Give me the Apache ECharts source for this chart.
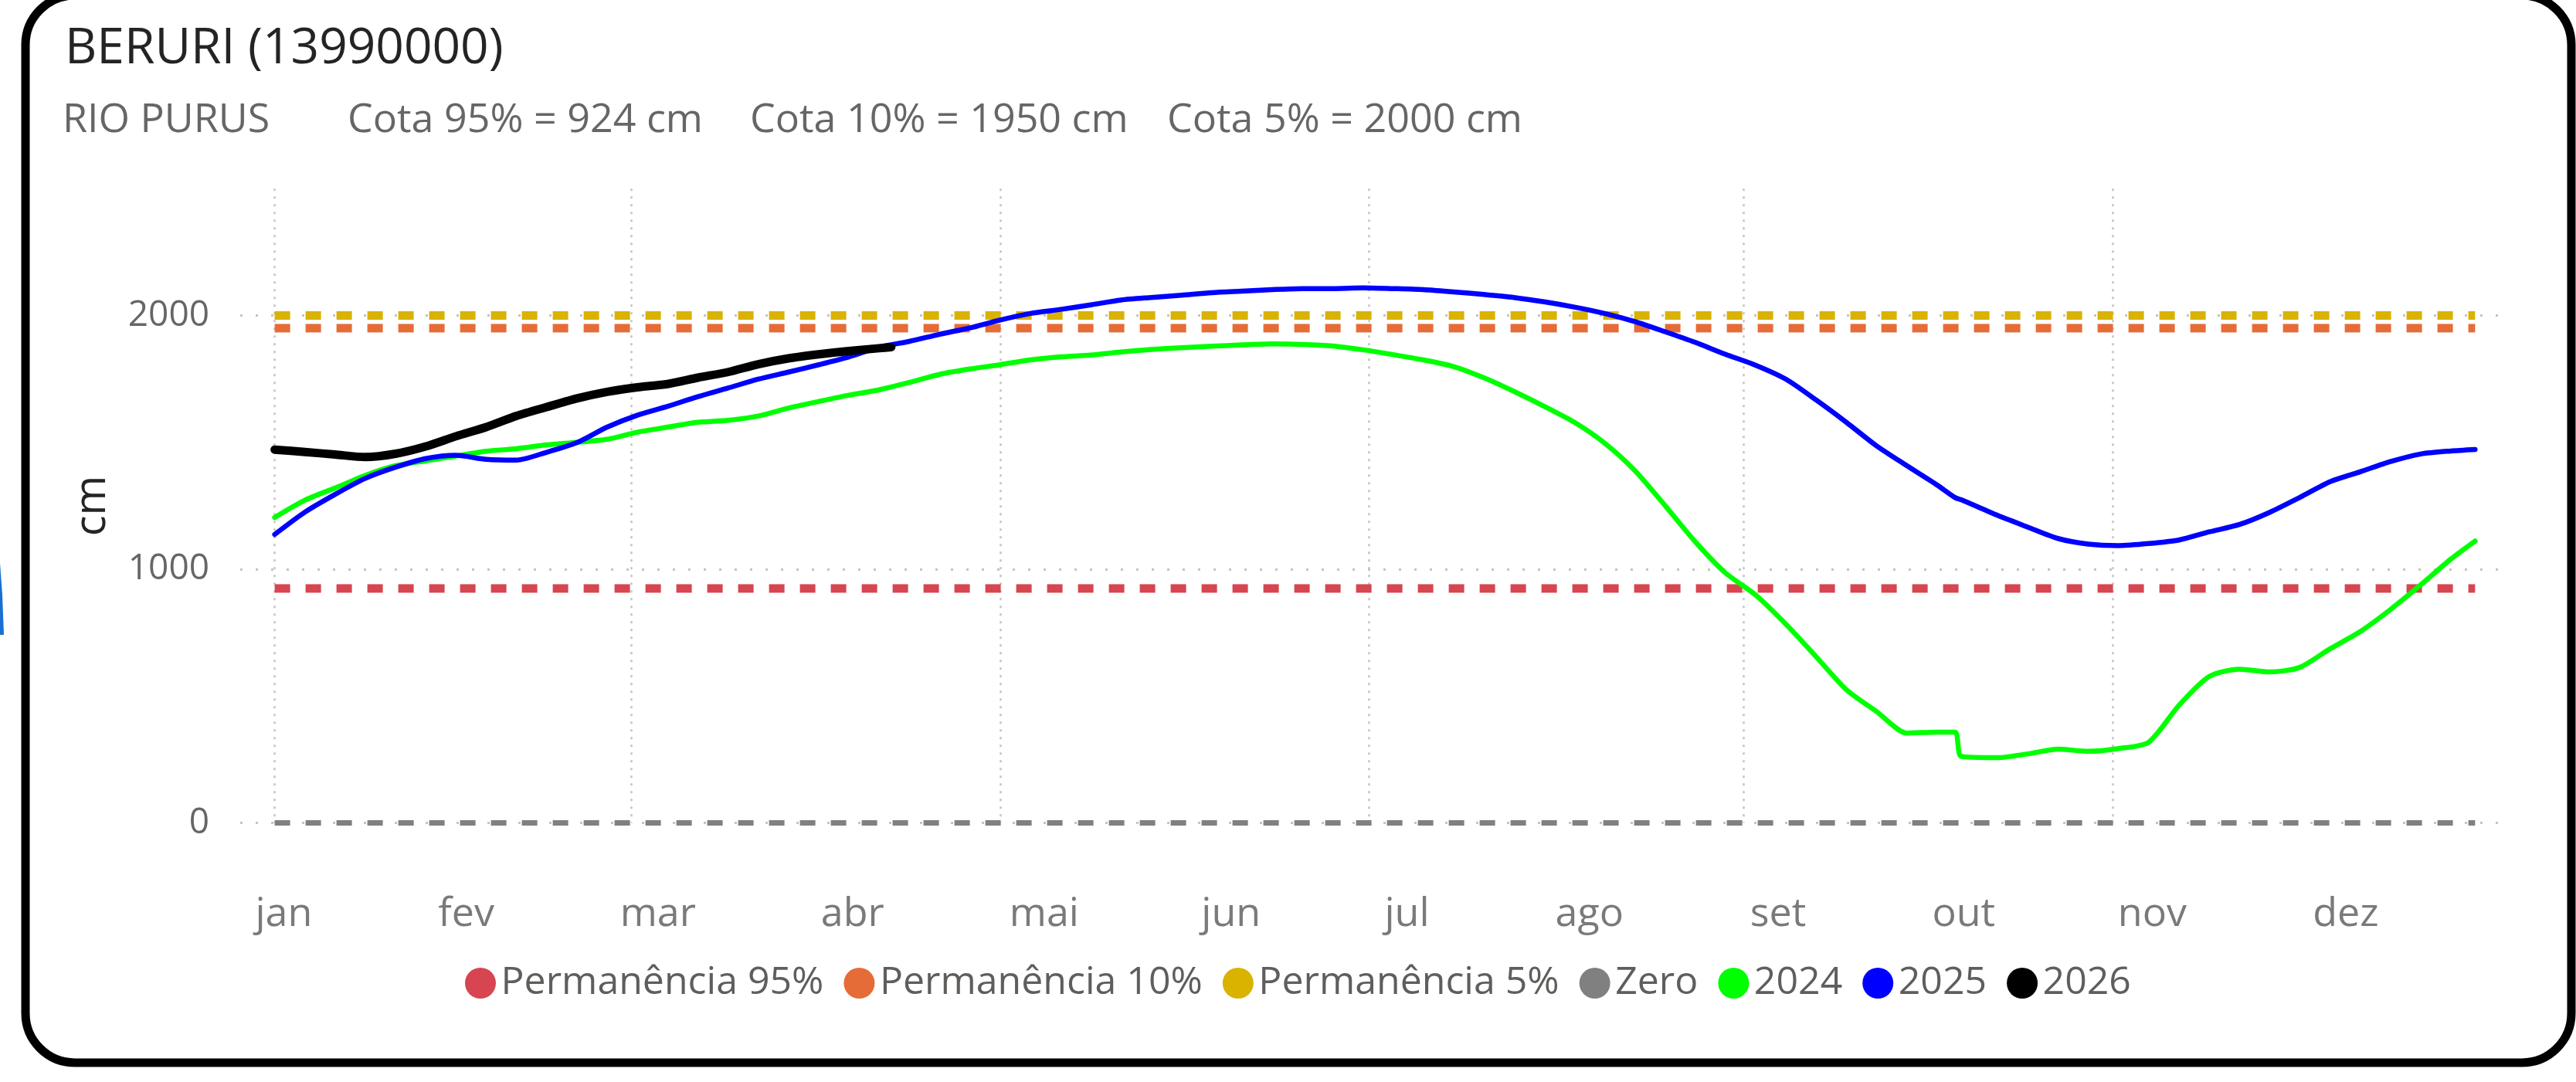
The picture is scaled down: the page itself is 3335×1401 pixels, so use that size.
<!DOCTYPE html>
<html>
<head>
<meta charset="utf-8">
<title>BERURI (13990000)</title>
<script src="https://cdn.jsdelivr.net/npm/echarts@6/dist/echarts.min.js"></script>
<style>
    html, body { margin: 0; padding: 0; background: #ffffff; }
    #main { width: 3335px; height: 1401px; }
</style>
</head>
<body>
<div id="main"></div>
<script>
// --------------------------------------------------------------------------------------------------------------------
// dados (dia do ano -> cota em cm)
var dias = [1, 6, 11, 16, 21, 26, 31, 36, 41, 46, 51, 56, 61, 66, 71, 76, 81, 86, 91, 96, 101, 106, 111, 116, 121,
    126, 131, 136, 141, 146, 151, 156, 161, 166, 171, 176, 181, 186, 191, 196, 201, 206, 211, 216, 221, 226, 231, 236,
    241, 246, 251, 256, 261, 266, 271, 276, 279, 280, 286, 291, 296, 301, 306, 311, 316, 321, 326, 331, 336, 341, 346,
    351, 356, 361, 365];
var cota2024 = [1204, 1272, 1320, 1370, 1408, 1427, 1446, 1465, 1475, 1490, 1500, 1512, 1540, 1560, 1579, 1587, 1604,
    1635, 1661, 1686, 1707, 1736, 1768, 1789, 1806, 1825, 1837, 1844, 1856, 1866, 1873, 1879, 1884, 1888, 1886, 1880,
    1865, 1846, 1825, 1799, 1755, 1701, 1642, 1579, 1497, 1389, 1251, 1108, 985, 898, 783, 655, 525, 439, 354, 358,
    358, 262, 257, 272, 291, 282, 293, 318, 463, 577, 606, 595, 613, 686, 754, 841, 938, 1040, 1111];
var cota2025 = [1137, 1225, 1295, 1358, 1402, 1436, 1449, 1433, 1430, 1461, 1499, 1560, 1607, 1642, 1680, 1714, 1749,
    1777, 1806, 1837, 1875, 1898, 1926, 1951, 1982, 2008, 2024, 2042, 2061, 2071, 2080, 2090, 2096, 2102, 2106, 2106,
    2109, 2106, 2102, 2093, 2083, 2071, 2054, 2033, 2008, 1976, 1936, 1894, 1847, 1804, 1749, 1667, 1579, 1486, 1408,
    1332, 1282, 1274, 1212, 1166, 1121, 1099, 1093, 1101, 1115, 1147, 1176, 1224, 1283, 1345, 1384, 1424, 1454, 1466,
    1472];
var dias2026 = [1, 6, 11, 16, 21, 26, 31, 36, 41, 46, 51, 56, 61, 66, 71, 76, 81, 86, 91, 96, 101, 103];
var cota2026 = [1471, 1462, 1452, 1442, 1455, 1484, 1524, 1560, 1604, 1639, 1673, 1699, 1717, 1730, 1755, 1777, 1808,
    1831, 1847, 1860, 1871, 1875];

// cotas de permanencia
var permanencia95 = 924;
var permanencia10 = 1950;
var permanencia5 = 2000;
var cotaZero = 0;

// eixos
var meses = ['jan', 'fev', 'mar', 'abr', 'mai', 'jun', 'jul', 'ago', 'set', 'out', 'nov', 'dez'];
var diasRotulos = [2.5, 32.7, 64.4, 96.6, 128.3, 159.2, 188.3, 218.5, 249.7, 280.4, 311.6, 343.6];
var diasGrade = [1, 60, 121, 182, 244, 305];
var ticksY = [0, 1000, 2000];

// --------------------------------------------------------------------------------------------------------------------
function pares(x, y) {
    var result = [];
    for (var i = 0; i < y.length; i++) {
        result.push([x[i], y[i]]);
    }
    return result;
}

function linhaReferencia(nome, valor, cor, largura) {
    return {
        name: nome,
        type: 'line',
        data: [[dias[0], valor], [dias[dias.length - 1], valor]],
        showSymbol: false,
        symbol: 'circle',
        clip: false,
        color: cor,
        lineStyle: { color: cor, width: largura, type: [20, 20], cap: 'butt' },
        silent: true
    };
}

function linhaAno(nome, x, y, cor, largura) {
    return {
        name: nome,
        type: 'line',
        data: pares(x, y),
        showSymbol: false,
        symbol: 'circle',
        smooth: 0.25,
        color: cor,
        lineStyle: { color: cor, width: largura, cap: 'round', join: 'round' },
        silent: true
    };
}

function rotuloMes(valor) {
    for (var i = 0; i < diasRotulos.length; i++) {
        if (Math.abs(diasRotulos[i] - valor) < 0.01) {
            return meses[i];
        }
    }
    return '';
}

// --------------------------------------------------------------------------------------------------------------------
var fonte = 'Open Sans';
var subEstilo = { fontFamily: fonte, fontSize: 52, fontWeight: 'normal', color: '#666666', lineHeight: 52 };

var chart = echarts.init(document.getElementById('main'));
chart.setOption({
    animation: false,
    backgroundColor: '#ffffff',
    title: [
        { text: 'BERURI (13990000)', left: 84, top: 32, padding: 0,
          textStyle: { fontFamily: fonte, fontSize: 64, fontWeight: 'normal', color: '#252423', lineHeight: 64 } },
        { text: 'RIO PURUS', left: 81, top: 130, padding: 0, textStyle: subEstilo },
        { text: 'Cota 95% = ' + permanencia95 + ' cm', left: 450, top: 130, padding: 0, textStyle: subEstilo },
        { text: 'Cota 10% = ' + permanencia10 + ' cm', left: 971, top: 130, padding: 0, textStyle: subEstilo },
        { text: 'Cota 5% = ' + permanencia5 + ' cm', left: 1511, top: 130, padding: 0, textStyle: subEstilo }
    ],
    legend: {
        data: ['Permanência 95%', 'Permanência 10%', 'Permanência 5%', 'Zero', '2024', '2025', '2026'],
        left: 602,
        top: 1248,
        padding: 0,
        icon: 'circle',
        itemWidth: 43,
        itemHeight: 40,
        itemGap: 26,
        textStyle: { fontFamily: fonte, fontSize: 50, color: '#605E5C' }
    },
    grid: { left: 311, right: 97, top: 244.25, bottom: 335.5, containLabel: false, outerBoundsMode: 'none' },
    xAxis: {
        type: 'value',
        min: -4.7,
        max: 369.3,
        axisLine: { show: false },
        axisTick: { show: false, customValues: diasGrade },
        splitLine: { show: true, lineStyle: { color: '#c4c4c4', width: 2.5, type: [3, 7] } },
        axisLabel: {
            customValues: diasRotulos,
            formatter: rotuloMes,
            color: '#7a7a7a',
            fontFamily: fonte,
            fontSize: 52,
            margin: 119,
            verticalAlign: 'middle'
        }
    },
    yAxis: {
        type: 'value',
        min: 0,
        max: 2500,
        name: 'cm',
        nameLocation: 'middle',
        nameGap: 163,
        nameRotate: 90,
        nameTextStyle: { fontFamily: fonte, fontSize: 56, color: '#252423' },
        axisLine: { show: false },
        axisTick: { show: false, customValues: ticksY },
        axisLabel: {
            customValues: ticksY,
            formatter: function (v) { return String(v); },
            color: '#666666',
            fontFamily: fonte,
            fontSize: 46,
            margin: 40
        },
        splitLine: { show: true, lineStyle: { color: '#c4c4c4', width: 3, type: [3, 17] } }
    },
    series: [
        linhaReferencia('Permanência 95%', permanencia95, '#D64550', 11),
        linhaReferencia('Permanência 10%', permanencia10, '#E66C37', 11),
        linhaReferencia('Permanência 5%', permanencia5, '#D9B300', 11),
        linhaReferencia('Zero', cotaZero, '#808080', 7),
        linhaAno('2024', dias, cota2024, '#00FF00', 6.5),
        linhaAno('2025', dias, cota2025, '#0000FF', 6.5),
        linhaAno('2026', dias2026, cota2026, '#000000', 11)
    ],
    graphic: [
        { type: 'rect', silent: true, z: 100,
          shape: { x: 33, y: -6, width: 3296, height: 1382, r: 64 },
          style: { fill: 'none', stroke: '#000000', lineWidth: 11 } },
        { type: 'polygon', silent: true,
          shape: { points: [[0, 729], [3, 770], [5, 822], [0, 822]] },
          style: { fill: '#1a6fd0' } }
    ]
});
</script>
</body>
</html>
